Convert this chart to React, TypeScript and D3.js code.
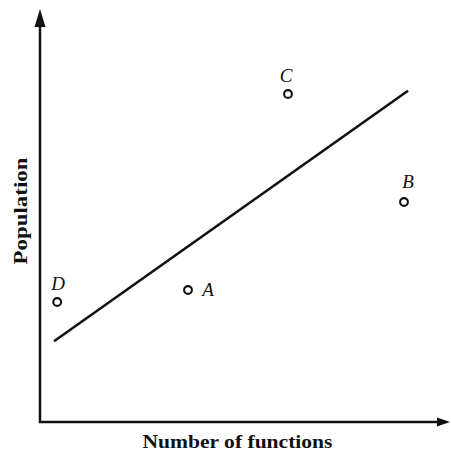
import * as d3 from "d3";

// abstract units, 0..100 on both axes
const pointNames = ["A", "B", "C", "D"];
const pointX = [37, 91, 62, 4.3];
const pointY = [33, 55, 82, 30];
const fitX = [3.5, 92];
const fitY = [20.2, 82.8];

const W = 451;
const H = 454;

const App = () => {
  const x = d3.scaleLinear().domain([0, 100]).range([40, 440]);
  const y = d3.scaleLinear().domain([0, 100]).range([422, 22]);

  const fitLine = d3
    .line<number>()
    .x((d) => x(fitX[d]))
    .y((d) => y(fitY[d]));

  // label offsets relative to each point (A sits to the right, others above)
  const labelDx = [20, 4, -2, 1];
  const labelDy = [6, -14, -12, -12];

  const x0 = x(0);
  const y0 = y(0);

  return (
    <svg
      width={W}
      height={H}
      style={{ position: "absolute", left: 0, top: 0, background: "#fff" }}
    >
      {/* axes with hand drawn arrowheads */}
      <line x1={x0} y1={y0 + 1} x2={x0} y2={22} stroke="#111" strokeWidth={2.5} />
      <path d={`M${x0},9 L${x0 + 5.5},27 L${x0 - 5.5},27 Z`} fill="#111" />
      <line x1={x0 - 1} y1={y0} x2={440} y2={y0} stroke="#111" strokeWidth={2.5} />
      <path d={`M450,${y0} L437,${y0 - 4.5} L437,${y0 + 4.5} Z`} fill="#111" />

      <path d={fitLine([0, 1]) || ""} stroke="#111" strokeWidth={2.6} fill="none" />

      {pointNames.map((name, i) => (
        <g key={name}>
          <circle cx={x(pointX[i])} cy={y(pointY[i])} r={3.9} fill="#fff" stroke="#111" strokeWidth={2.1} />
          <text
            x={x(pointX[i]) + labelDx[i]}
            y={y(pointY[i]) + labelDy[i]}
            textAnchor="middle"
            fontFamily="Liberation Serif"
            fontStyle="italic"
            fontSize={19}
            fill="#111"
          >
            {name}
          </text>
        </g>
      ))}

      <text
        x={237.5}
        y={448}
        textAnchor="middle"
        fontFamily="Liberation Serif"
        fontWeight="bold"
        fontSize={18.5}
        textLength={190}
        lengthAdjust="spacingAndGlyphs"
        fill="#111"
      >
        Number of functions
      </text>
      <text
        transform={`translate(27, 211) rotate(-90)`}
        textAnchor="middle"
        fontFamily="Liberation Serif"
        fontWeight="bold"
        fontSize={18.5}
        textLength={107}
        lengthAdjust="spacingAndGlyphs"
        fill="#111"
      >
        Population
      </text>
    </svg>
  );
};

export default App;
